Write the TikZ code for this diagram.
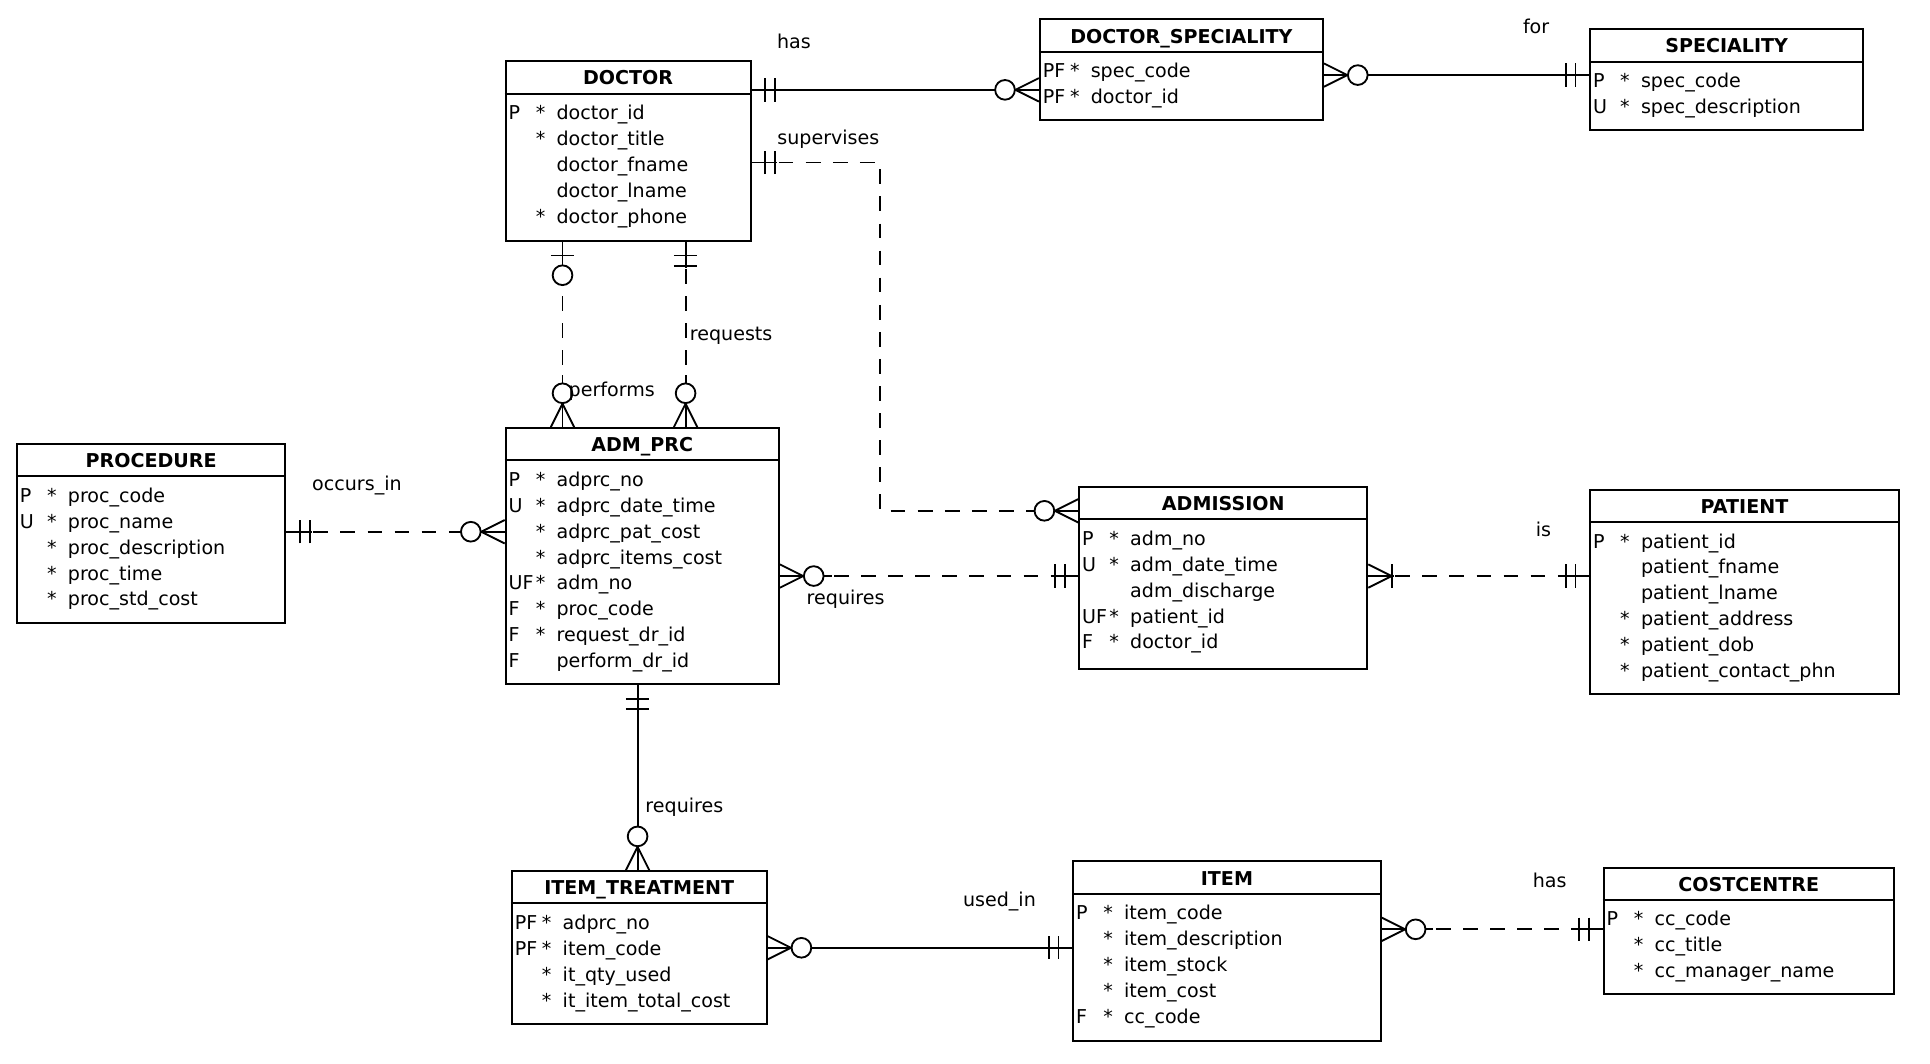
\documentclass[tikz,border=0pt]{standalone}
\usepackage{fontspec}
\setmainfont{DejaVu Sans}
\usetikzlibrary{calc}
\newcommand{\efont}{\fontsize{15.5pt}{21pt}\selectfont}
\tikzset{
  ebox/.style={draw, line width=1.6pt, anchor=north west, inner sep=0pt, fill=white},
  etitle/.style={font=\efont\bfseries, inner sep=0pt, anchor=base},
  erow/.style={font=\efont, inner sep=0pt, anchor=mid west},
  hline/.style={line width=1.6pt},
  rlabel/.style={font=\efont, inner sep=0pt, anchor=mid},
  rel/.style={line width=1.5pt},
  reld/.style={rel, dash pattern=on 12pt off 10pt},
}
\newcommand{\entity}[7]{%
  \node[ebox, minimum width=#4pt, minimum height=#5pt] (#1) at (#2,#3) {};
  \node[etitle] (#1-t) at ($(#1.north)+(0,20)$) {#6};
  \draw[hline] ($(#1.north west)+(0,27)$) -- ($(#1.north east)+(0,27)$);
  \foreach \ka/\st/\nm [count=\ii] in {#7}{%
    \node[erow] (#1-r\ii) at ($(#1.north west)+(3,{45.5+21*(\ii-1)})$)
      {\makebox[20pt][l]{\ka}\makebox[12pt][c]{\st}\hspace{7pt}\nm};}%
}
% ends: #1 point, #2 outward direction angle
\newcommand{\cfmany}[2]{\begin{scope}[shift={#1}, rotate=#2]
  \draw[rel] (0pt,9.5pt) -- (19pt,0pt) -- (0pt,-9.5pt);
  \draw[rel] (0pt,0pt) -- (19pt,0pt);\end{scope}}
\newcommand{\cfcirc}[3]{\begin{scope}[shift={#1}, rotate=#2]
  \draw[rel, fill=white] (#3pt,0pt) circle[radius=8pt];\end{scope}}
\newcommand{\cfbar}[3]{\begin{scope}[shift={#1}, rotate=#2]
  \draw[rel] (#3pt,-9.5pt) -- (#3pt,9.5pt);\end{scope}}
\newcommand{\cfstub}[3]{\begin{scope}[shift={#1}, rotate=#2]
  \draw[rel] (0pt,0pt) -- (#3pt,0pt);\end{scope}}
\begin{document}
\begin{tikzpicture}[x=1pt, y=-1pt, font=\efont]
\useasboundingbox[fill=white] (0,0) rectangle (1568,864);

\entity{doctor}{410}{49}{199}{146}{DOCTOR}{P/*/doctor\_id, {}/*/doctor\_title, {}/{}/doctor\_fname, {}/{}/doctor\_lname, {}/*/doctor\_phone}
\entity{ds}{844}{15}{230}{82}{DOCTOR\_SPECIALITY}{PF/*/spec\_code, PF/*/doctor\_id}
\entity{spec}{1291}{23}{222}{82}{SPECIALITY}{P/*/spec\_code, U/*/spec\_description}
\entity{proc}{13}{360}{218}{145}{PROCEDURE}{P/*/proc\_code, U/*/proc\_name, {}/*/proc\_description, {}/*/proc\_time, {}/*/proc\_std\_cost}
\entity{admprc}{410}{347}{222}{208}{ADM\_PRC}{P/*/adprc\_no, U/*/adprc\_date\_time, {}/*/adprc\_pat\_cost, {}/*/adprc\_items\_cost, UF/*/adm\_no, F/*/proc\_code, F/*/request\_dr\_id, F/{}/perform\_dr\_id}
\entity{admission}{876}{395}{234}{148}{ADMISSION}{P/*/adm\_no, U/*/adm\_date\_time, {}/{}/adm\_discharge, UF/*/patient\_id, F/*/doctor\_id}
\entity{patient}{1291}{397}{251}{166}{PATIENT}{P/*/patient\_id, {}/{}/patient\_fname, {}/{}/patient\_lname, {}/*/patient\_address, {}/*/patient\_dob, {}/*/patient\_contact\_phn}
\entity{it}{415}{707}{207}{124}{ITEM\_TREATMENT}{PF/*/adprc\_no, PF/*/item\_code, {}/*/it\_qty\_used, {}/*/it\_item\_total\_cost}
\entity{item}{871}{699}{250}{146}{ITEM}{P/*/item\_code, {}/*/item\_description, {}/*/item\_stock, {}/*/item\_cost, F/*/cc\_code}
\entity{cc}{1302}{704}{236}{103}{COSTCENTRE}{P/*/cc\_code, {}/*/cc\_title, {}/*/cc\_manager\_name}

% connector end points
\coordinate (hasA) at (doctor.east |- 0,73);
\coordinate (hasB) at (ds.west |- 0,73);
\coordinate (forA) at (ds.east |- 0,61);
\coordinate (forB) at (spec.west |- 0,61);
\coordinate (svA) at (doctor.east |- 0,132);
\coordinate (svB) at (admission.west |- 0,415);
\coordinate (svK) at (715,0);
\coordinate (pfA) at (doctor.south -| 457,0);
\coordinate (pfB) at (admprc.north -| 457,0);
\coordinate (rqA) at (doctor.south -| 557,0);
\coordinate (rqB) at (admprc.north -| 557,0);
\coordinate (ocA) at (proc.east |- 0,432);
\coordinate (ocB) at (admprc.west |- 0,432);
\coordinate (reA) at (admprc.east |- 0,468);
\coordinate (reB) at (admission.west |- 0,468);
\coordinate (isA) at (admission.east |- 0,468);
\coordinate (isB) at (patient.west |- 0,468);
\coordinate (r2A) at (admprc.south -| 518,0);
\coordinate (r2B) at (it.north -| 518,0);
\coordinate (usA) at (it.east |- 0,770);
\coordinate (usB) at (item.west |- 0,770);
\coordinate (h2A) at (item.east |- 0,755);
\coordinate (h2B) at (cc.west |- 0,755);

% has
\draw[rel] (hasA) -- (hasB);
\cfbar{(hasA)}{0}{11}\cfbar{(hasA)}{0}{19}
\cfmany{(hasB)}{180}\cfcirc{(hasB)}{180}{27.5}
% for
\draw[rel] (forA) -- (forB);
\cfmany{(forA)}{0}\cfcirc{(forA)}{0}{27.5}
\cfbar{(forB)}{180}{11}\cfbar{(forB)}{180}{19}
% supervises
\draw[reld] (svA) -| (svK |- svB) -- (svB);
\cfstub{(svA)}{0}{21}\cfbar{(svA)}{0}{11}\cfbar{(svA)}{0}{19}
\cfstub{(svB)}{180}{42}\cfmany{(svB)}{180}\cfcirc{(svB)}{180}{27.5}
% performs
\draw[reld] (pfA) -- (pfB);
\cfstub{(pfA)}{-90}{36}\cfbar{(pfA)}{-90}{11}\cfcirc{(pfA)}{-90}{27}
\cfstub{(pfB)}{90}{42}\cfmany{(pfB)}{90}\cfcirc{(pfB)}{90}{27.5}
% requests
\draw[reld] (rqA) -- (rqB);
\cfstub{(rqA)}{-90}{21}\cfbar{(rqA)}{-90}{11}\cfbar{(rqA)}{-90}{19.5}
\cfstub{(rqB)}{90}{42}\cfmany{(rqB)}{90}\cfcirc{(rqB)}{90}{27.5}
% occurs_in
\draw[reld] (ocA) -- (ocB);
\cfstub{(ocA)}{0}{21}\cfbar{(ocA)}{0}{11}\cfbar{(ocA)}{0}{19}
\cfstub{(ocB)}{180}{42}\cfmany{(ocB)}{180}\cfcirc{(ocB)}{180}{27.5}
% requires (adm_prc - admission)
\draw[reld] (reA) -- (reB);
\cfstub{(reA)}{0}{42}\cfmany{(reA)}{0}\cfcirc{(reA)}{0}{27.5}
\cfstub{(reB)}{180}{21}\cfbar{(reB)}{180}{11}\cfbar{(reB)}{180}{19}
% is
\draw[reld] (isA) -- (isB);
\cfstub{(isA)}{0}{21}\cfmany{(isA)}{0}\cfbar{(isA)}{0}{19}
\cfstub{(isB)}{180}{21}\cfbar{(isB)}{180}{11}\cfbar{(isB)}{180}{19}
% requires (adm_prc - item_treatment)
\draw[rel] (r2A) -- (r2B);
\cfbar{(r2A)}{-90}{11}\cfbar{(r2A)}{-90}{19.5}
\cfmany{(r2B)}{90}\cfcirc{(r2B)}{90}{27.5}
% used_in
\draw[rel] (usA) -- (usB);
\cfmany{(usA)}{0}\cfcirc{(usA)}{0}{27.5}
\cfbar{(usB)}{180}{11}\cfbar{(usB)}{180}{19}
% has (item - costcentre)
\draw[reld] (h2A) -- (h2B);
\cfstub{(h2A)}{0}{42}\cfmany{(h2A)}{0}\cfcirc{(h2A)}{0}{27.5}
\cfstub{(h2B)}{180}{21}\cfbar{(h2B)}{180}{11}\cfbar{(h2B)}{180}{19}

% labels
\node[rlabel] (lhas) at (645,36.5) {has};
\node[rlabel] (lfor) at (1248,24.5) {for};
\node[rlabel] (lsup) at (673,114.5) {supervises};
\node[rlabel] (lreq) at (594,273.5) {requests};
\node[rlabel] (lperf) at (497,319.5) {performs};
\node[rlabel] (locc) at (290,395.5) {occurs\_in};
\node[rlabel] (lreq1) at (687,488.5) {requires};
\node[rlabel] (lis) at (1254,433.5) {is};
\node[rlabel] (lreq2) at (556,657.5) {requires};
\node[rlabel] (lused) at (812,733.5) {used\_in};
\node[rlabel] (lhas2) at (1259,718.5) {has};
\end{tikzpicture}
\end{document}
